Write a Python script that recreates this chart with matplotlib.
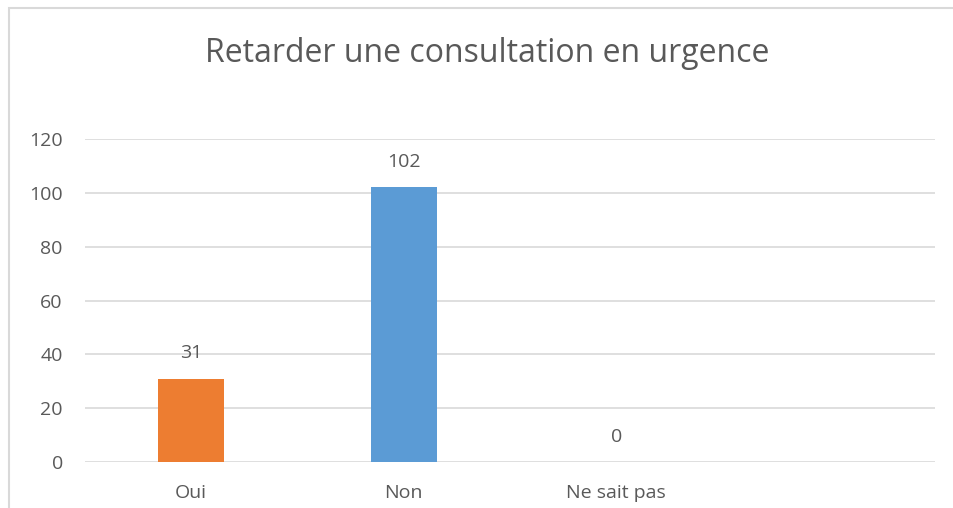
import matplotlib.pyplot as plt
from matplotlib.patches import Rectangle

# chart data
categories = ["Oui", "Non", "Ne sait pas", ""]
values = [31, 102, 0]
colors = ["#ED7D31", "#5B9BD5", "#A5A5A5"]
yticks = [0, 20, 40, 60, 80, 100, 120]
title = "Retarder une consultation en urgence"

plt.rcParams['font.family'] = ['Open Sans', 'DejaVu Sans']
text_color = "#595959"

fig = plt.figure(figsize=(9.54, 5.08), dpi=100)
ax = fig.add_axes([85 / 954, 1 - 462 / 508, 850 / 954, 323 / 508])

x = list(range(len(categories)))
bars = ax.bar(x[:len(values)], values, width=0.31, color=colors[:len(values)], zorder=3)

for b, v in zip(bars, values):
    ax.text(b.get_x() + b.get_width() / 2, v + 6, str(v), ha="center", va="bottom",
            fontsize=14, color=text_color)

ax.set_xlim(-0.5, len(categories) - 0.5)
ax.set_ylim(0, 120)
ax.set_yticks(yticks)
ax.set_xticks(x)
ax.set_xticklabels(categories)
ax.tick_params(axis="both", length=0, labelsize=14, labelcolor=text_color)
ax.tick_params(axis="y", pad=16)
ax.tick_params(axis="x", pad=16)
ax.grid(axis="y", color="#D9D9D9", linewidth=1.2, zorder=0)
for s in ax.spines.values():
    s.set_visible(False)

fig.text(487 / 954, 1 - 54 / 508, title, ha="center", va="center", fontsize=23, color=text_color)

# chart frame (partially cropped in the original)
fig.patches.append(Rectangle((9 / 954, -0.1), 1.2, 1 - 8 / 508 + 0.1, transform=fig.transFigure,
                             fill=False, edgecolor="#D9D9D9", linewidth=1.5))

fig.savefig("out.png", dpi=100)
